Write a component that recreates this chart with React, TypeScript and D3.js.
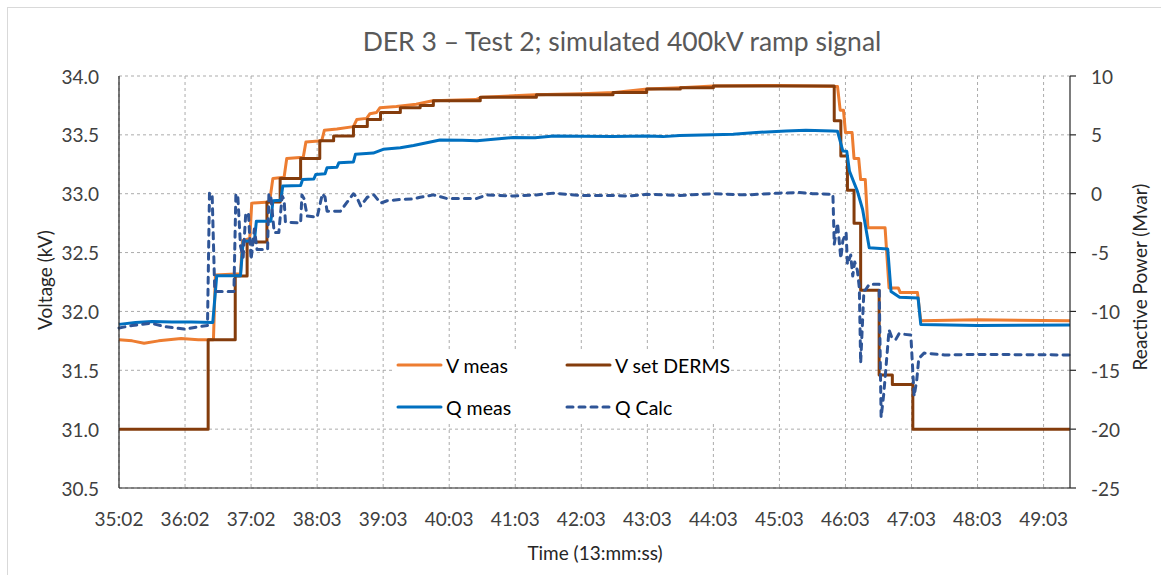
import * as d3 from 'd3'

// time axis: minutes elapsed since 13:35:02
const TICK_LABELS = ['35:02', '36:02', '37:02', '38:03', '39:03', '40:03', '41:03', '42:03', '43:03', '44:03', '45:03', '46:03', '47:03', '48:03', '49:03']
const V_TICKS = [30.5, 31.0, 31.5, 32.0, 32.5, 33.0, 33.5, 34.0]
const Q_TICKS = [-25, -20, -15, -10, -5, 0, 5, 10]

type Pt = [number, number]

const vMeas: Pt[] = [
  [0, 31.76], [0.2, 31.75], [0.38, 31.73], [0.6, 31.75], [0.94, 31.77], [1.2, 31.76], [1.43, 31.76],
  [1.46, 32.31], [1.84, 32.32], [1.87, 32.6], [1.98, 32.62], [2.01, 32.92], [2.28, 32.93], [2.33, 33.13],
  [2.5, 33.14], [2.54, 33.3], [2.79, 33.31], [2.83, 33.44], [3.07, 33.45], [3.11, 33.54], [3.3, 33.55],
  [3.55, 33.57], [3.6, 33.63], [3.75, 33.64], [3.8, 33.68], [3.9, 33.69], [3.95, 33.73], [4.2, 33.74],
  [4.5, 33.76], [4.75, 33.79], [5.4, 33.8], [5.5, 33.82], [6.3, 33.84], [7.0, 33.85], [7.5, 33.86],
  [8.0, 33.89], [8.5, 33.9], [9.0, 33.915], [10.0, 33.92], [10.5, 33.915], [10.88, 33.91],
  [10.92, 33.71], [10.97, 33.71], [11.0, 33.52], [11.1, 33.52], [11.13, 33.3], [11.2, 33.3],
  [11.23, 33.12], [11.3, 33.12], [11.34, 32.71], [11.6, 32.71], [11.66, 32.2], [11.8, 32.2],
  [11.83, 32.16], [12.09, 32.16], [12.14, 31.92], [13.0, 31.93], [14.4, 31.92]
]

const vSet: Pt[] = [
  [0, 31.0], [1.35, 31.76], [1.76, 32.3], [1.94, 32.59], [2.24, 32.93], [2.44, 33.13], [2.75, 33.3],
  [3.04, 33.45], [3.25, 33.49], [3.55, 33.57], [3.76, 33.63], [3.96, 33.69], [4.26, 33.73],
  [4.56, 33.75], [4.76, 33.79], [5.47, 33.82], [6.32, 33.84], [7.48, 33.86], [7.99, 33.89],
  [8.5, 33.9], [9.0, 33.915], [10.83, 33.62], [10.93, 33.32], [11.03, 33.03], [11.13, 32.75],
  [11.23, 32.18], [11.51, 31.46], [11.71, 31.38], [12.02, 31.0], [14.4, 31.0]
]

const qMeas: Pt[] = [
  [0, -11.1], [0.25, -10.95], [0.5, -10.85], [0.8, -10.9], [1.1, -10.9], [1.42, -10.94],
  [1.48, -6.96], [1.84, -6.96], [1.88, -4.04], [2.05, -4.0], [2.08, -2.33], [2.3, -2.33],
  [2.33, -0.6], [2.45, -0.55], [2.48, 0.65], [2.75, 0.7], [2.78, 1.2], [2.95, 1.25], [2.98, 1.64],
  [3.12, 1.7], [3.15, 2.2], [3.3, 2.25], [3.33, 2.64], [3.55, 2.7], [3.58, 3.35], [3.85, 3.45],
  [4.0, 3.77], [4.26, 3.9], [4.46, 4.1], [4.86, 4.57], [5.2, 4.55], [5.42, 4.5], [5.97, 4.77],
  [6.3, 4.75], [6.58, 4.9], [7.0, 4.88], [7.48, 4.85], [7.99, 4.9], [8.24, 4.85], [8.49, 4.95],
  [9.0, 5.0], [9.3, 5.05], [9.65, 5.2], [10.1, 5.33], [10.4, 5.4], [10.8, 5.33], [10.88, 5.3],
  [10.96, 3.63], [11.02, 3.6], [11.06, 1.93], [11.18, 0.22], [11.26, -1.34], [11.36, -4.6],
  [11.64, -4.7], [11.69, -8.3], [11.82, -8.8], [12.1, -8.86], [12.14, -11.1], [13.0, -11.2], [14.4, -11.15]
]

const qCalc: Pt[] = [
  [0, -11.4], [0.2, -11.2], [0.48, -11.0], [0.7, -11.3], [1.0, -11.5], [1.2, -11.3], [1.34, -11.2],
  [1.37, 0.05], [1.41, 0.0], [1.45, -8.3], [1.74, -8.3], [1.77, 0.0], [1.8, -0.3], [1.84, -4.46],
  [1.88, -5.4], [1.92, -1.62], [1.96, -1.7], [2.0, -5.6], [2.05, -3.0], [2.09, -4.74], [2.25, -4.74],
  [2.27, 0.0], [2.3, -0.3], [2.35, -3.3], [2.42, -3.3], [2.47, -0.2], [2.5, -0.5], [2.52, -2.4],
  [2.75, -2.5], [2.77, -0.1], [2.8, -0.4], [2.85, -1.9], [3.0, -2.0], [3.08, 0.0], [3.12, -0.3],
  [3.15, -1.48], [3.35, -1.5], [3.55, 0.0], [3.6, -0.3], [3.66, -1.05], [3.76, -0.3], [3.86, -0.1],
  [3.96, -0.8], [4.06, -0.6], [4.26, -0.49], [4.46, -0.45], [4.56, -0.3], [4.76, -0.1], [4.96, -0.4],
  [5.42, -0.4], [5.57, -0.1], [5.97, -0.2], [6.32, -0.1], [6.58, 0.05], [6.98, -0.15], [7.48, -0.15],
  [7.73, -0.2], [7.99, -0.05], [8.49, -0.15], [9.0, 0.0], [9.5, -0.1], [10.0, 0.05], [10.3, 0.1],
  [10.5, 0.0], [10.81, -0.05], [10.83, -4.3], [10.88, -2.5], [10.93, -5.5], [10.96, -4.0],
  [11.01, -3.3], [11.03, -6.0], [11.08, -5.2], [11.11, -7.0], [11.14, -5.8], [11.18, -6.5],
  [11.21, -8.0], [11.23, -14.4], [11.28, -8.2], [11.3, -8.2], [11.36, -7.7], [11.51, -7.7],
  [11.54, -19.0], [11.58, -17.0], [11.61, -15.0], [11.66, -11.56], [11.7, -12.2], [11.76, -12.4],
  [11.81, -11.9], [11.99, -12.0], [12.04, -17.2], [12.08, -15.8], [12.11, -14.0], [12.19, -13.54],
  [12.5, -13.7], [13.0, -13.65], [14.4, -13.7]
]

const W = 1161
const H = 575
const FONT = 'Lato, "Open Sans", sans-serif'

export default function App() {
  const x = d3.scaleLinear().domain([0, 14.4]).range([119, 1070])
  const yV = d3.scaleLinear().domain([30.5, 34]).range([488, 76])
  const yQ = d3.scaleLinear().domain([-25, 10]).range([488, 76])

  const lineV = d3.line<Pt>().x((d) => x(d[0])).y((d) => yV(d[1]))
  const stepV = d3.line<Pt>().x((d) => x(d[0])).y((d) => yV(d[1])).curve(d3.curveStepAfter)
  const lineQ = d3.line<Pt>().x((d) => x(d[0])).y((d) => yQ(d[1]))

  const [x0, x1] = x.range()
  const [y0, y1] = yV.range()

  const legend = [
    { label: 'V meas', color: '#ED7D31', dash: 'none', lx: 398, ly: 365 },
    { label: 'V set DERMS', color: '#843C0C', dash: 'none', lx: 567, ly: 365 },
    { label: 'Q meas', color: '#0070C0', dash: 'none', lx: 398, ly: 407 },
    { label: 'Q Calc', color: '#2F5597', dash: '6,6', lx: 567, ly: 407 }
  ]

  return (
    <svg width={W} height={H} style={{ position: 'absolute', left: 0, top: 0, background: '#fff' }} fontFamily={FONT}>
      <rect x={7.5} y={7.5} width={W + 20} height={H + 20} fill="#fff" stroke="#D9D9D9" />

      <text x={622} y={51} textAnchor="middle" fontSize={26.5} fill="#595959">
        DER 3 – Test 2; simulated 400kV ramp signal
      </text>

      {/* gridlines */}
      {V_TICKS.map((v) => (
        <line key={'h' + v} x1={x0} x2={x1} y1={yV(v)} y2={yV(v)} stroke="#ABABAB" strokeDasharray="3,3" />
      ))}
      {TICK_LABELS.map((_, i) => (
        <line key={'v' + i} x1={x(i)} x2={x(i)} y1={y1} y2={y0} stroke="#ABABAB" strokeDasharray="3,3" />
      ))}

      {/* series */}
      <g fill="none" strokeWidth={3} strokeLinejoin="round">
        <path d={lineV(vMeas) || ''} stroke="#ED7D31" />
        <path d={stepV(vSet) || ''} stroke="#843C0C" />
        <path d={lineQ(qMeas) || ''} stroke="#0070C0" />
        <path d={lineQ(qCalc) || ''} stroke="#2F5597" strokeDasharray="6,6" strokeLinecap="round" />
      </g>

      {/* axes */}
      <line x1={x0} x2={x0} y1={y1} y2={y0} stroke="#262626" strokeWidth={1.2} />
      <line x1={x1} x2={x1} y1={y1} y2={y0} stroke="#262626" strokeWidth={1.2} />
      <line x1={x0} x2={x1} y1={y0} y2={y0} stroke="#262626" strokeWidth={1.2} />
      {Q_TICKS.map((q) => (
        <line key={'qt' + q} x1={x1} x2={x1 + 6} y1={yQ(q)} y2={yQ(q)} stroke="#262626" strokeWidth={1.2} />
      ))}

      {/* tick labels */}
      <g fontSize={19} fill="#404040">
        {V_TICKS.map((v) => (
          <text key={'vl' + v} x={99} y={yV(v)} textAnchor="end" dominantBaseline="central">
            {v.toFixed(1)}
          </text>
        ))}
        {Q_TICKS.map((q) => (
          <text key={'ql' + q} x={1091} y={yQ(q)} textAnchor="start" dominantBaseline="central">
            {q}
          </text>
        ))}
        {TICK_LABELS.map((t, i) => (
          <text key={'xl' + i} x={x(i)} y={518} textAnchor="middle" dominantBaseline="central">
            {t}
          </text>
        ))}
      </g>

      {/* axis titles */}
      <g fontSize={19} fill="#262626">
        <text transform="translate(44,280) rotate(-90)" textAnchor="middle" dominantBaseline="central">
          Voltage (kV)
        </text>
        <text transform="translate(1139,277) rotate(-90)" textAnchor="middle" dominantBaseline="central">
          Reactive Power (Mvar)
        </text>
        <text x={595} y={552} textAnchor="middle" dominantBaseline="central">
          Time (13:mm:ss)
        </text>
      </g>

      {/* legend */}
      <rect x={392} y={350} width={336} height={73} fill="#fff" />
      {legend.map((d) => (
        <g key={d.label}>
          <line x1={d.lx} x2={d.lx + 43} y1={d.ly} y2={d.ly} stroke={d.color} strokeWidth={3} strokeDasharray={d.dash} strokeLinecap="round" />
          <text x={d.lx + 48} y={d.ly} fontSize={19.5} fill="#000" dominantBaseline="central">
            {d.label}
          </text>
        </g>
      ))}
    </svg>
  )
}
